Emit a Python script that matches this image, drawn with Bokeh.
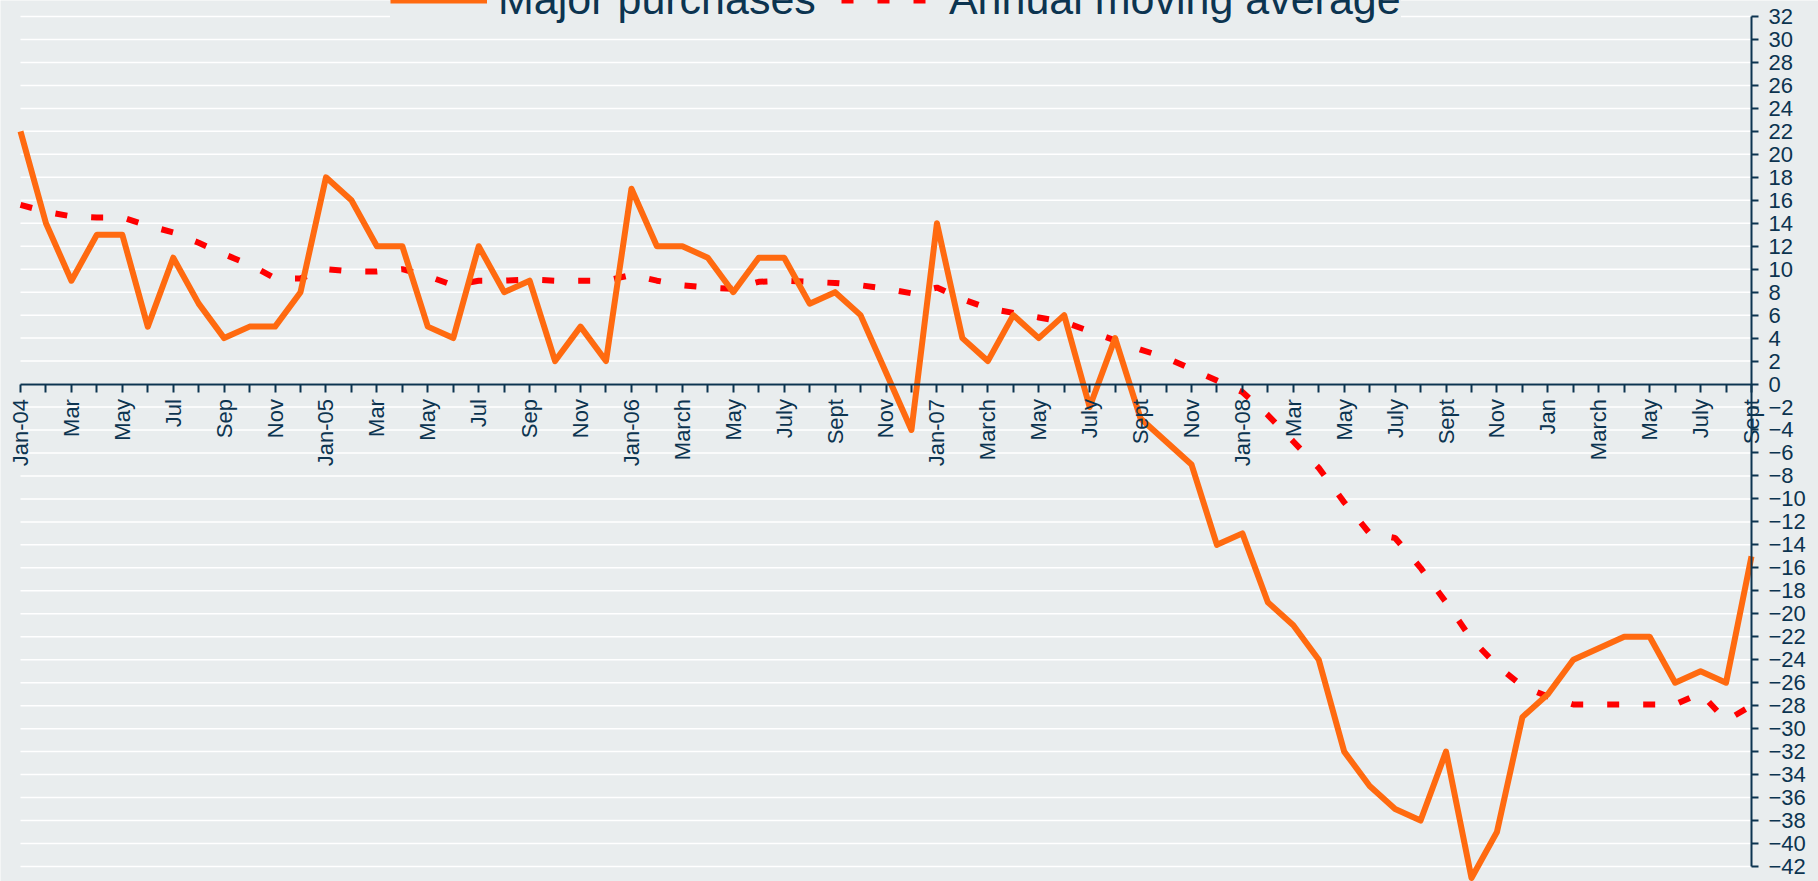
import math
from bokeh.plotting import figure
from bokeh.models import Range1d, FixedTicker, Legend, LegendItem
from bokeh.embed import file_html
from bokeh.resources import INLINE

# ---- data ----
month_index = list(range(69))  # Jan 2004 .. Sept 2009

tick_positions = list(range(0, 69, 2))
tick_labels = ["Jan-04", "Mar", "May", "Jul", "Sep", "Nov",
               "Jan-05", "Mar", "May", "Jul", "Sep", "Nov",
               "Jan-06", "March", "May", "July", "Sept", "Nov",
               "Jan-07", "March", "May", "July", "Sept", "Nov",
               "Jan-08", "Mar", "May", "July", "Sept", "Nov",
               "Jan", "March", "May", "July", "Sept"]

major_purchases = [22, 14, 9, 13, 13, 5, 11, 7, 4, 5, 5, 8,
                   18, 16, 12, 12, 5, 4, 12, 8, 9, 2, 5, 2,
                   17, 12, 12, 11, 8, 11, 11, 7, 8, 6, 1, -4,
                   14, 4, 2, 6, 4, 6, -2, 4, -3, -5, -7, -14,
                   -13, -19, -21, -24, -32, -35, -37, -38, -32, -43, -39, -29,
                   -27, -24, -23, -22, -22, -26, -25, -26, -15]

annual_moving_average = [15.6, 15.0, 14.6, 14.5, 14.5, 13.8, 13.2, 12.3, 11.3, 10.4, 9.2, 9.2,
                         10.0, 9.8, 9.8, 10.0, 9.4, 8.6, 9.0, 9.0, 9.1, 9.0, 9.0, 9.0,
                         9.5, 9.0, 8.6, 8.4, 8.3, 8.9, 9.0, 8.9, 8.8, 8.6, 8.3, 7.9,
                         8.4, 7.4, 6.6, 6.2, 5.8, 5.4, 4.6, 3.8, 3.0, 2.3, 1.3, 0.3,
                         -0.7, -2.7, -5.0, -7.3, -10.3, -13.0, -13.4, -16.0, -19.0, -22.2, -24.5, -26.3,
                         -27.2, -27.9, -27.9, -27.9, -27.9, -27.9, -26.9, -29.3, -28.0]

y_ticks = list(range(-42, 33, 2))

# ---- styling ----
BG = "#e9edee"
NAVY = "#0c3450"
ORANGE = "#ff6a10"
RED = "#ff0000"
FONT = "Liberation Sans"

x_first, x_last = month_index[0], month_index[-1]

p = figure(frame_width=1818, frame_height=881,
           min_border_left=0, min_border_right=0, min_border_top=0, min_border_bottom=0,
           x_range=Range1d(x_first - 0.7857, x_last + 2.632),
           y_range=Range1d(-43.309, 33.393),
           y_axis_location="right", x_axis_location="below",
           output_backend="svg", toolbar_location=None)

p.background_fill_color = BG
p.border_fill_color = BG
p.outline_line_color = None

# grid (horizontal white lines spanning the category range only)
p.xgrid.visible = False
p.ygrid.visible = False
p.segment(x0=[x_first] * len(y_ticks), x1=[x_last] * len(y_ticks),
          y0=y_ticks, y1=y_ticks, line_color="white", line_width=1.5, level="underlay")

# right axis, pinned at the last month
ya = p.yaxis[0]
ya.fixed_location = x_last
ya.ticker = FixedTicker(ticks=y_ticks)
ya.bounds = (y_ticks[0], y_ticks[-1])
ya.axis_line_color = NAVY
ya.axis_line_width = 2
ya.major_tick_line_color = NAVY
ya.major_tick_line_width = 2
ya.major_tick_out = 7
ya.major_tick_in = 0
ya.minor_tick_out = 0
ya.minor_tick_in = 0
ya.major_label_standoff = 10
ya.major_label_text_font = FONT
ya.major_label_text_font_size = "22px"
ya.major_label_text_color = NAVY

# x axis at zero
xa = p.xaxis[0]
xa.fixed_location = 0
xa.bounds = (x_first, x_last)
xa.ticker = FixedTicker(ticks=tick_positions,
                        minor_ticks=[i for i in month_index if i % 2 == 1])
xa.major_label_overrides = {pos: lab for pos, lab in zip(tick_positions, tick_labels)}
xa.major_label_orientation = math.pi / 2
xa.axis_line_color = NAVY
xa.axis_line_width = 2
xa.major_tick_line_color = NAVY
xa.minor_tick_line_color = NAVY
xa.major_tick_line_width = 2
xa.minor_tick_line_width = 2
xa.major_tick_out = 8
xa.major_tick_in = 0
xa.minor_tick_out = 8
xa.minor_tick_in = 0
xa.major_label_standoff = 7
xa.major_label_text_font = FONT
xa.major_label_text_font_size = "22px"
xa.major_label_text_color = NAVY

# series
r_avg = p.line(month_index, annual_moving_average, line_color=RED, line_width=6,
               line_dash="12 24")
r_maj = p.line(month_index, major_purchases, line_color=ORANGE, line_width=6,
               line_join="round")

legend = Legend(items=[LegendItem(label="Major purchases", renderers=[r_maj]),
                       LegendItem(label="Annual moving average", renderers=[r_avg])],
                orientation="horizontal", location=(390, 857),
                glyph_width=97, label_standoff=11, spacing=25,
                padding=14, margin=0,
                label_text_font=FONT, label_text_font_size="43px",
                label_text_color=NAVY,
                background_fill_color=BG, background_fill_alpha=1.0,
                border_line_color=None)
p.add_layout(legend, "center")

open("out.html", "w").write(file_html(p, INLINE))
